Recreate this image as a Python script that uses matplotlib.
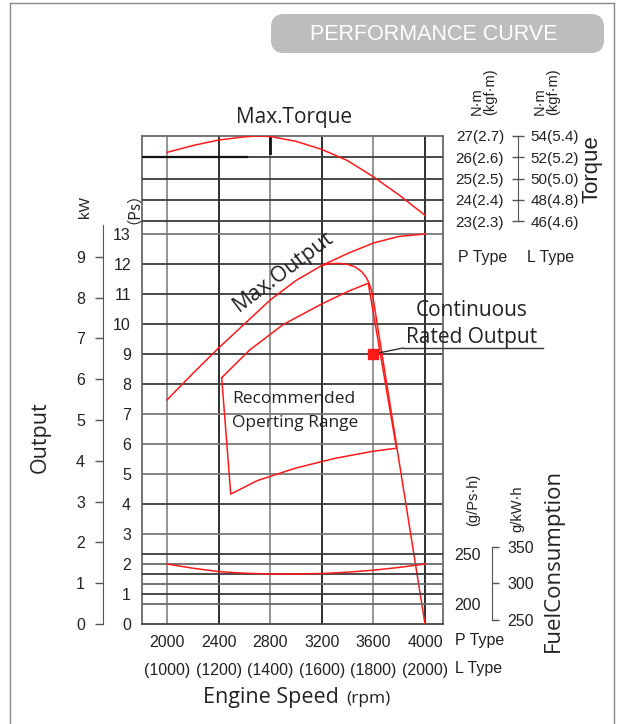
import matplotlib
matplotlib.use('Agg')
import matplotlib.pyplot as plt
from matplotlib.patches import FancyBboxPatch
from matplotlib.lines import Line2D
from matplotlib.colors import LinearSegmentedColormap
import numpy as np

# ---------------- data ----------------
rpm_ticks = [2000, 2400, 2800, 3200, 3600, 4000]
rpm_labels_p = ['2000', '2400', '2800', '3200', '3600', '4000']
rpm_ticks_l = [1000, 1200, 1400, 1600, 1800, 2000]
rpm_labels_l = ['(1000)', '(1200)', '(1400)', '(1600)', '(1800)', '(2000)']

ps_ticks = list(range(0, 14))
ps_grid = list(range(3, 14))
kw_ticks = list(range(0, 10))

torque_p_ticks = [23, 24, 25, 26, 27]
torque_p_labels = ['23(2.3)', '24(2.4)', '25(2.5)', '26(2.6)', '27(2.7)']
torque_l_ticks = [46, 48, 50, 52, 54]
torque_l_labels = ['46(4.6)', '48(4.8)', '50(5.0)', '52(5.2)', '54(5.4)']

fuel_ps_ticks = [200, 250]
fuel_ps_grid = [200, 210, 220, 230, 240, 250]
fuel_kw_ticks = [250, 300, 350]

maxout_rpm = [2000, 2200, 2400, 2600, 2800, 3000, 3200, 3400, 3600, 3800, 4000]
maxout_ps = [7.47, 8.35, 9.2, 10.0, 10.8, 11.45, 11.95, 12.35, 12.7, 12.92, 13.0]

gov_rpm = [3200, 3260, 3330, 3400, 3460, 3510, 3540, 3565, 3585, 3597, 4000]
gov_ps = [11.95, 12.01, 12.02, 11.99, 11.9, 11.74, 11.58, 11.38, 11.12, 10.88, 0.0]

range_rpm = [2424, 2640, 2900, 3200, 3400, 3560, 3779, 3600, 3300, 3000, 2700, 2494, 2424]
range_ps = [8.21, 9.13, 9.98, 10.67, 11.08, 11.36, 5.86, 5.76, 5.52, 5.2, 4.78, 4.33, 8.21]

torque_rpm = [2000, 2200, 2400, 2600, 2700, 2800, 3000, 3200, 3400, 3600, 3800, 4000]
torque_nm = [26.23, 26.55, 26.81, 26.96, 27.0, 26.98, 26.75, 26.37, 25.84, 25.08, 24.22, 23.27]

fuel_rpm = [2000, 2200, 2400, 2600, 2800, 3000, 3200, 3400, 3600, 3800, 4000]
fuel_g = [240, 235.8, 232.4, 230.8, 230.0, 230.0, 230.5, 231.8, 233.8, 236.6, 240]

rated_rpm = [3600]
rated_ps = [9.0]

maxtorque_mark_rpm = 2800
torque_ref_line_end_rpm = 2620

# ---------------- figure ----------------
W, H = 623, 724
plt.rcParams['font.family'] = ['Liberation Sans', 'DejaVu Sans']
HUM = ['Open Sans', 'DejaVu Sans']
TXT = '#222222'
RED = '#ff1a1a'
TICK_FS = 11.5

fig = plt.figure(figsize=(W / 100, H / 100), dpi=100)
fig.patch.set_facecolor('white')


def fx(x):
    return x / W


def fy(y):
    return 1 - y / H


L, R, T, B = 142, 443, 136, 624
ax = fig.add_axes([fx(L), fy(B), (R - L) / W, (B - T) / H])
px_per_rpm = 258 / 2000
x0 = 2000 - (167 - L) / px_per_rpm
x1 = 4000 + (R - 425) / px_per_rpm
ps_top = (B - T) / 30.0
ax.set_xlim(x0, x1)
ax.set_ylim(0, ps_top)

# torque scale (P type N.m): 27 at top, 21.25 px per unit
tq_bot = 27 - (B - T) / 21.25
# fuel scale g/Ps.h : 1 px per unit, 250 at y=554
fu_bot = 250 - (B - 554)
fu_top = fu_bot + (B - T)

# vertical grid
vcols = ['#8c8c8c', '#1e1e1e', '#8c8c8c', '#1e1e1e', '#8c8c8c', '#1e1e1e']
for r, c in zip(rpm_ticks, vcols):
    ax.axvline(r, color=c, lw=1.3, zorder=1)
hdark = {4, 8, 9, 10, 11, 12}
for p in ps_grid:
    ax.axhline(p, color='#3a3a3a' if p in hdark else '#7a7a7a', lw=1.3, zorder=1)

for s in ax.spines.values():
    s.set_color('#6a6a6a')
    s.set_linewidth(1.3)
ax.spines['bottom'].set_color('#444444')

# red Ps curves
ax.plot(maxout_rpm, maxout_ps, color=RED, lw=1.1, zorder=3)
ax.plot(gov_rpm, gov_ps, color=RED, lw=1.1, zorder=3)
ax.plot(range_rpm, range_ps, color=RED, lw=1.1, zorder=3)
ax.plot(rated_rpm, rated_ps, 's', color=RED, ms=6.5, zorder=4)

# Ps ticks
ax.set_yticks(ps_ticks)
ax.set_yticklabels([str(v) for v in ps_ticks])
ax.tick_params(axis='y', length=0, pad=8, labelsize=TICK_FS, labelcolor=TXT)
ax.set_xticks(rpm_ticks)
ax.set_xticklabels(rpm_labels_p)
ax.tick_params(axis='x', length=0, pad=8, labelsize=TICK_FS, labelcolor=TXT)

sec = ax.secondary_xaxis('bottom', functions=(lambda x: x / 2.0, lambda x: x * 2.0))
sec.set_xticks(rpm_ticks_l)
sec.set_xticklabels(rpm_labels_l)
sec.tick_params(length=0, pad=28, labelsize=TICK_FS, labelcolor=TXT)
sec.spines['bottom'].set_visible(False)


def bare_twin():
    t = ax.twinx()
    for s in t.spines.values():
        s.set_visible(False)
    return t


# torque P axis
tp = bare_twin()
tp.set_ylim(tq_bot, 27)
for v in torque_p_ticks[:-1]:
    tp.axhline(v, color='#3a3a3a', lw=1.3, zorder=1)
tp.plot([x0, torque_ref_line_end_rpm], [26, 26], color='#111111', lw=1.6, zorder=2)
tp.plot([maxtorque_mark_rpm, maxtorque_mark_rpm], [26.2, 27], color='#111111', lw=2.0, zorder=2)
tp.plot(torque_rpm, torque_nm, color=RED, lw=1.1, zorder=3)
tp.yaxis.tick_left()
tp.spines['left'].set_visible(True)
tp.spines['left'].set_position(('axes', (518 - L) / (R - L)))
tp.spines['left'].set_bounds(23, 27)
tp.spines['left'].set_color('#555555')
tp.set_yticks(torque_p_ticks)
tp.set_yticklabels(torque_p_labels)
tp.tick_params(axis='y', direction='inout', length=8, width=1, color='#555555',
               pad=6, labelsize=11, labelcolor=TXT)

# torque L axis
tl = bare_twin()
tl.set_ylim(tq_bot * 2, 54)
tl.spines['right'].set_position(('axes', (518 - L) / (R - L)))
tl.set_yticks(torque_l_ticks)
tl.set_yticklabels(torque_l_labels)
tl.tick_params(axis='y', length=0, pad=9, labelsize=11, labelcolor=TXT)

# fuel g/Ps.h axis
fp = bare_twin()
fp.set_ylim(fu_bot, fu_top)
for i, v in enumerate(fuel_ps_grid):
    fp.axhline(v, color='#3a3a3a' if i % 2 else '#6a6a6a', lw=1.3, zorder=1)
fp.plot(fuel_rpm, fuel_g, color=RED, lw=1.1, zorder=3)
fp.yaxis.tick_left()
fp.spines['left'].set_position(('axes', (492 - L) / (R - L)))
fp.set_yticks(fuel_ps_ticks)
fp.set_yticklabels([str(v) for v in fuel_ps_ticks])
fp.tick_params(axis='y', length=0, pad=8, labelsize=TICK_FS, labelcolor=TXT)

# fuel g/kW.h axis
fk = bare_twin()
fk.set_ylim(fu_bot / 0.7355, fu_top / 0.7355)
fk.spines['right'].set_visible(True)
fk.spines['right'].set_position(('axes', (492 - L) / (R - L)))
fk.spines['right'].set_bounds(250, 350)
fk.spines['right'].set_color('#555555')
fk.set_yticks(fuel_kw_ticks)
fk.set_yticklabels([str(v) for v in fuel_kw_ticks])
fk.tick_params(axis='y', direction='out', length=5, width=1, color='#555555',
               pad=6, labelsize=TICK_FS, labelcolor=TXT)

# kW axis
kw = bare_twin()
kw.set_ylim(0, ps_top * 0.7355)
kw.yaxis.tick_left()
kw.spines['left'].set_visible(True)
kw.spines['left'].set_position(('axes', (103 - L) / (R - L)))
kw.spines['left'].set_bounds(0, (B - 225) / 30.0 * 0.7355)
kw.spines['left'].set_color('#555555')
kw.set_yticks(kw_ticks)
kw.set_yticklabels([str(v) for v in kw_ticks])
kw.tick_params(axis='y', direction='out', length=6, width=1, color='#555555',
               pad=7, labelsize=TICK_FS, labelcolor=TXT)

# ---------------- texts ----------------
def ftext(x, y, s, **kw_):
    kw_.setdefault('color', TXT)
    return fig.text(fx(x), fy(y), s, **kw_)


ftext(294, 117, 'Max.Torque', ha='center', va='center', fontsize=15, family=HUM)
ftext(85, 207, 'kW', ha='center', va='center', rotation=90, fontsize=11)
ftext(125, 200, '（Ps）', ha='center', va='center', rotation=90, fontsize=11,
      family=['Noto Sans CJK JP', 'DejaVu Sans'])
ftext(40, 437, 'Output', ha='center', va='center', rotation=90, fontsize=15.5, family=HUM)
ftext(232, 399, 'Recommended', ha='left', va='center', fontsize=12.5, family=HUM)
ftext(232, 423, 'Operting Range', ha='left', va='center', fontsize=12.5, family=HUM)
ftext(472, 311, 'Continuous', ha='center', va='center', fontsize=15, family=HUM)
ftext(472, 338, 'Rated Output', ha='center', va='center', fontsize=15, family=HUM)
ftext(283, 272, 'Max.Output', ha='center', va='center', rotation=37,
      rotation_mode='anchor', fontsize=15.5, family=HUM)

ftext(483, 115, 'N·m\n(kgf·m)', ha='center', va='bottom', rotation=90,
      multialignment='left', fontsize=10.5, linespacing=0.95)
ftext(546, 115, 'N·m\n(kgf·m)', ha='center', va='bottom', rotation=90,
      multialignment='left', fontsize=10.5, linespacing=0.95)
ftext(592, 169, 'Torque', ha='center', va='center', rotation=90, fontsize=16,
      family=['Liberation Sans', 'DejaVu Sans'])
ftext(458, 257, 'P Type', ha='left', va='center', fontsize=11.5)
ftext(527, 257, 'L Type', ha='left', va='center', fontsize=11.5)

ftext(473, 500, '(g/Ps·h)', ha='center', va='center', rotation=90, fontsize=10.5)
ftext(517, 509, 'g/kW·h', ha='center', va='center', rotation=90, fontsize=10.5)
ftext(553, 560, 'FuelConsumption', ha='center', va='center', rotation=90,
      fontsize=16, family=HUM)

ftext(455, 641, 'P Type', ha='left', va='center', fontsize=11.5)
ftext(455, 668, 'L Type', ha='left', va='center', fontsize=11.5)
ftext(203, 697, 'Engine Speed', ha='left', va='center', fontsize=15.5, family=HUM)
ftext(346, 699, '(rpm)', ha='left', va='center', fontsize=12.5, family=HUM)

# leader + underline for rated output
ax.annotate('', xy=(rated_rpm[0], rated_ps[0]), xycoords='data',
            xytext=(fx(403), fy(348)), textcoords='figure fraction',
            arrowprops=dict(arrowstyle='-', color='#333333', lw=1.0,
                            shrinkA=0, shrinkB=0))
fig.add_artist(Line2D([fx(403), fx(543)], [fy(348), fy(348)], color='#333333', lw=1.0))

# title banner
banner = FancyBboxPatch((fx(271), fy(53)), fx(604) - fx(271), fy(14) - fy(53),
                        boxstyle='round,pad=0,rounding_size=0.022', mutation_aspect=0.86,
                        transform=fig.transFigure, facecolor='#bdbdbd', edgecolor='none')
fig.add_artist(banner)
gax = fig.add_axes([fx(271), fy(53), fx(604) - fx(271), fy(14) - fy(53)])
gax.axis('off')
cmap = LinearSegmentedColormap.from_list('g', ['#d2d2d2', '#bcbcbc', '#a8a8a8'])
im = gax.imshow(np.linspace(0, 1, 64).reshape(-1, 1), aspect='auto', cmap=cmap,
                extent=(0, 1, 0, 1))
im.set_clip_path(banner)
ftext(434, 35, 'PERFORMANCE CURVE', ha='center', va='center', fontsize=15.5,
      color='white')

# outer border
for xs, ys in [([10, 10], [3, 724]), ([614, 614], [3, 724]), ([10, 614], [3, 3])]:
    fig.add_artist(Line2D([fx(v) for v in xs], [fy(v) for v in ys],
                          color='#8a8a8a', lw=1.0))

fig.savefig('out.png', dpi=100, facecolor='white')
